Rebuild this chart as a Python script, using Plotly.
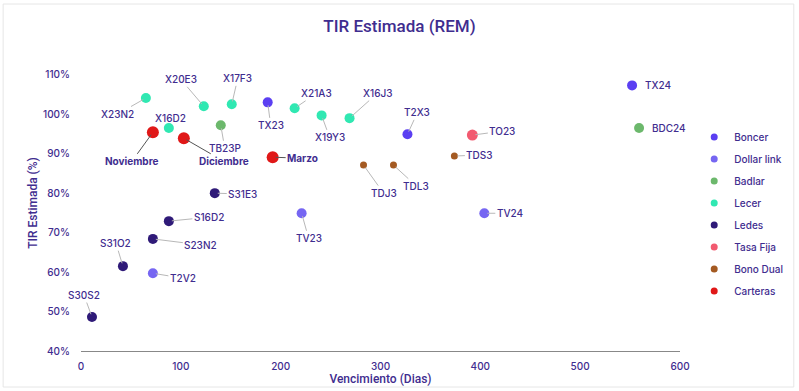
import plotly.graph_objects as go

# ---- data ----
series_names = ["Boncer", "Dollar link", "Badlar", "Lecer", "Ledes", "Tasa Fija", "Bono Dual", "Carteras"]

boncer_labels = ["TX23", "T2X3", "TX24"]
boncer_days = [187, 327, 552]
boncer_tir = [103.0, 94.9, 107.3]

dlink_labels = ["T2V2", "TV23", "TV24"]
dlink_days = [72, 221, 404]
dlink_tir = [59.7, 74.9, 74.9]

badlar_labels = ["TB23P", "BDC24"]
badlar_days = [140, 559]
badlar_tir = [97.2, 96.5]

lecer_labels = ["X23N2", "X16D2", "X20E3", "X17F3", "X21A3", "X19Y3", "X16J3"]
lecer_days = [65, 88, 123, 151, 214, 241, 269]
lecer_tir = [104.1, 96.5, 102.0, 102.5, 101.5, 99.7, 99.0]

ledes_labels = ["S30S2", "S31O2", "S23N2", "S16D2", "S31E3"]
ledes_days = [11, 42, 72, 88, 134]
ledes_tir = [48.6, 61.5, 68.4, 72.9, 80.0]

fija_labels = ["TO23"]
fija_days = [392]
fija_tir = [94.7]

dual_labels = ["TDJ3", "TDL3", "TDS3"]
dual_days = [283, 313, 374]
dual_tir = [87.1, 87.1, 89.4]

cart_labels = ["Noviembre", "Diciembre", "Marzo"]
cart_days = [72, 103, 192]
cart_tir = [95.4, 93.9, 89.1]

x_ticks = [0, 100, 200, 300, 400, 500, 600]
y_ticks = [40, 50, 60, 70, 80, 90, 100, 110]
y_tick_text = ["40%", "50%", "60%", "70%", "80%", "90%", "100%", "110%"]

# ---- styles ----
colors = {
    "Boncer": "#5b3ff2",
    "Dollar link": "#7666f2",
    "Badlar": "#6cb86c",
    "Lecer": "#30e8b2",
    "Ledes": "#2f1a78",
    "Tasa Fija": "#f25a70",
    "Bono Dual": "#a45a22",
    "Carteras": "#e01818",
}
sizes = {"Boncer": 10, "Dollar link": 10, "Badlar": 10, "Lecer": 10, "Ledes": 10,
         "Tasa Fija": 11, "Bono Dual": 7, "Carteras": 12}

# label offsets in pixels (text centre relative to point)
offsets = {
    "TX23": (3, 23), "T2X3": (10, -22), "TX24": (26, 0),
    "T2V2": (30, 5), "TV23": (7, 25), "TV24": (26, 0),
    "TB23P": (4, 23), "BDC24": (30, 0),
    "X23N2": (-28, 16), "X16D2": (2, -10), "X20E3": (-23, -27), "X17F3": (6, -26),
    "X21A3": (22, -15), "X19Y3": (8, 22), "X16J3": (28, -25),
    "S30S2": (-8, -22), "S31O2": (-7, -23), "S23N2": (48, 6), "S16D2": (40, -4), "S31E3": (28, 1),
    "TO23": (30, -4),
    "TDJ3": (20, 28), "TDL3": (23, 21), "TDS3": (25, -1),
    "Noviembre": (-21, 29), "Diciembre": (40, 23), "Marzo": (30, 1),
}
no_arrow = {"X16D2", "TX24", "BDC24"}

groups = [
    ("Boncer", boncer_labels, boncer_days, boncer_tir),
    ("Dollar link", dlink_labels, dlink_days, dlink_tir),
    ("Badlar", badlar_labels, badlar_days, badlar_tir),
    ("Lecer", lecer_labels, lecer_days, lecer_tir),
    ("Ledes", ledes_labels, ledes_days, ledes_tir),
    ("Tasa Fija", fija_labels, fija_days, fija_tir),
    ("Bono Dual", dual_labels, dual_days, dual_tir),
    ("Carteras", cart_labels, cart_days, cart_tir),
]

TXT = "#3f2d8f"
FONT = "Inter"

fig = go.Figure()
annotations = []
for name, labels, xs, ys in groups:
    fig.add_trace(go.Scatter(
        x=xs, y=ys, mode="markers", name=name, showlegend=False,
        marker=dict(color=colors[name], size=sizes[name]),
        hovertext=labels,
    ))
    # legend-only entry with small dots
    fig.add_trace(go.Scatter(
        x=[None], y=[None], mode="markers", name=name, legendgroup=name,
        marker=dict(color=colors[name], size=7),
    ))
    bold = name == "Carteras"
    for lab, xv, yv in zip(labels, xs, ys):
        ax, ay = offsets[lab]
        if lab in no_arrow:
            acol = "rgba(0,0,0,0)"
        elif bold:
            acol = "#555555"
        else:
            acol = "#b8b8b8"
        annotations.append(dict(
            x=xv, y=yv, xref="x", yref="y",
            text=f"<b>{lab}</b>" if bold else lab,
            showarrow=True, ax=ax, ay=ay,
            arrowhead=0, arrowwidth=1, arrowcolor=acol,
            standoff=3,
            font=dict(family=FONT, size=10, color=TXT, weight=500),
        ))

fig.update_layout(
    width=799, height=391,
    margin=dict(l=81, r=118, t=55, b=40),
    paper_bgcolor="white", plot_bgcolor="white",
    title=dict(text="TIR Estimada (REM)", x=0.5, xanchor="center", y=0.934, yanchor="middle",
               font=dict(family="Roboto", size=17, color=TXT, weight=500)),
    xaxis=dict(range=[0, 600], tickvals=x_ticks, showgrid=False, zeroline=False,
               showline=True, linecolor="#888888", linewidth=1, automargin=False,
               ticklabelstandoff=6,
               tickfont=dict(family=FONT, size=10, color=TXT, weight=500),
               title=dict(text="Vencimiento (Dias)", font=dict(family="Roboto", size=12, color=TXT, weight=500),
                          standoff=0)),
    yaxis=dict(range=[40, 115], tickvals=y_ticks, ticktext=y_tick_text, showgrid=False, zeroline=False,
               showline=False, automargin=False,
               ticklabelstandoff=10,
               tickfont=dict(family=FONT, size=10, color=TXT, weight=500),
               title=dict(text="TIR Estimada (%)", font=dict(family="Roboto", size=12, color=TXT, weight=500),
                          standoff=2)),
    legend=dict(x=1.022, xanchor="left", y=0.463, yanchor="middle", tracegroupgap=3,
                font=dict(family=FONT, size=10, color=TXT, weight=500), itemwidth=30),
    annotations=annotations,
    shapes=[dict(type="rect", xref="paper", yref="paper",
                 x0=(3 - 81) / 600, x1=(795 - 81) / 600,
                 y0=(391 - 40 - 387) / 296, y1=(391 - 40 - 4) / 296,
                 line=dict(color="#e6e6e6", width=1), layer="below")],
)

fig.write_html("out.html", config={"displayModeBar": False},
               post_script="document.body.style.margin='0';")
